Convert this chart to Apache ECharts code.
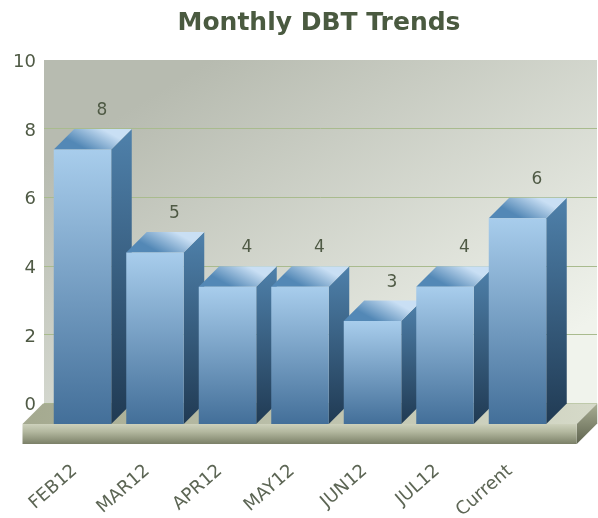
<!DOCTYPE html>
<html>
<head>
<meta charset="utf-8">
<style>html,body{margin:0;padding:0;background:#fff}#c{width:598px;height:518px}</style>
<script src="https://cdn.jsdelivr.net/npm/echarts@6/dist/echarts.min.js"></script>
</head>
<body>
<div id="c"></div>
<script>
const titleText = 'Monthly DBT Trends';
const categories = ['FEB12', 'MAR12', 'APR12', 'MAY12', 'JUN12', 'JUL12', 'Current'];
const barValues = [8, 5, 4, 4, 3, 4, 6];
const yMin = 0, yMax = 10, yStep = 2;

const DEPTH = 20.5;
const lin = (x, y, x2, y2, a, b) => new echarts.graphic.LinearGradient(x, y, x2, y2, [{offset: 0, color: a}, {offset: 1, color: b}]);
const textColor = '#4f5a45';

function renderFloor(params, api) {
  const cs = params.coordSys;
  const y0 = api.coord([0, 0])[1];
  const l = 22.5, r = cs.x + cs.width + 23, h = 20;
  return {type: 'group', children: [
    {type: 'polygon', shape: {points: [[l, y0], [l + DEPTH, y0 - DEPTH], [r + DEPTH, y0 - DEPTH], [r, y0]]},
      style: {fill: lin(0, 0, 1, 0, '#a4a98f', '#d6dac9')}},
    {type: 'polygon', shape: {points: [[r, y0], [r + DEPTH, y0 - DEPTH], [r + DEPTH, y0 - DEPTH + h], [r, y0 + h]]},
      style: {fill: lin(0, 0, 0, 1, '#a9ae94', '#5f644f')}},
    {type: 'rect', shape: {x: l, y: y0, width: r - l, height: h},
      style: {fill: new echarts.graphic.LinearGradient(0, 0, 0, 1, [
        {offset: 0, color: '#cdd1bc'}, {offset: 0.4, color: '#b2b79e'}, {offset: 1, color: '#7b8068'}])}}
  ]};
}

function renderBar(params, api) {
  const p = api.coord([api.value(0), api.value(1)]);
  const base = api.coord([api.value(0), 0]);
  const w = api.size([1, 0])[0] * 0.793;
  const x0 = p[0] - w / 2, x1 = p[0] + w / 2, yt = p[1], yb = base[1], d = DEPTH;
  return {type: 'group', children: [
    {type: 'polygon', shape: {points: [[x1, yt], [x1 + d, yt - d], [x1 + d, yb - d], [x1, yb]]},
      style: {fill: lin(0, 0, 0, 1, '#4f81ab', '#203a53')}},
    {type: 'polygon', shape: {points: [[x0, yt], [x0 + d, yt - d], [x1 + d, yt - d], [x1, yt]]},
      style: {fill: lin(0.42, 1, 0.58, -0.1, '#5388b6', '#c9dff4')}},
    {type: 'rect', shape: {x: x0, y: yt, width: w, height: yb - yt},
      style: {fill: lin(0, 0, 0, 1, '#a8cdec', '#436f99')}},
    {type: 'text', style: {text: String(api.value(1)), x: p[0] + d - 1, y: yt - d - 18.5,
      align: 'center', verticalAlign: 'middle', fill: textColor, font: '17px "DejaVu Sans"'}}
  ]};
}

const chart = echarts.init(document.getElementById('c'), null, {renderer: 'canvas'});
chart.setOption({
  animation: false,
  backgroundColor: '#ffffff',
  title: {text: titleText, left: 314, textAlign: 'center', top: 6,
    textStyle: {fontFamily: 'DejaVu Sans', fontWeight: 'bold', fontSize: 25, color: '#4a5a40'}},
  grid: [
    {left: 44, right: 1, top: 60, bottom: 115, show: true, borderWidth: 0, outerBoundsMode: 'none',
      backgroundColor: lin(0.3, 0, 0.7, 1.05, '#b7bbb0', '#f0f3ec')},
    {left: 46.25, right: 44.25, top: 81, bottom: 94, outerBoundsMode: 'none'}
  ],
  xAxis: [
    {gridIndex: 0, type: 'value', min: 0, max: 1, show: false},
    {gridIndex: 1, type: 'category', data: categories, axisLine: {show: false}, axisTick: {show: false},
      axisLabel: {rotate: 41, margin: 38, interval: 0, color: '#5d6655', fontFamily: 'DejaVu Sans', fontSize: 18, padding: [0, 10, 0, 0]}}
  ],
  yAxis: [
    {gridIndex: 0, type: 'value', min: yMin, max: yMax, interval: yStep,
      axisLine: {show: false}, axisTick: {show: false},
      axisLabel: {margin: 8, color: textColor, fontFamily: 'DejaVu Sans', fontSize: 18, verticalAlign: 'top', lineHeight: 5},
      splitLine: {show: true, showMaxLine: false, lineStyle: {color: '#a9bb8e', width: 1}}},
    {gridIndex: 1, type: 'value', min: yMin, max: yMax, interval: yStep, show: false}
  ],
  series: [
    {type: 'custom', xAxisIndex: 1, yAxisIndex: 1, clip: false, silent: true, z: 2,
      data: [[0, 0]], encode: {x: 0, y: 1}, renderItem: renderFloor},
    {type: 'custom', xAxisIndex: 1, yAxisIndex: 1, clip: false, silent: true, z: 3,
      data: barValues.map((v, i) => [i, v]), encode: {x: 0, y: 1}, renderItem: renderBar}
  ]
});
</script>
</body>
</html>
